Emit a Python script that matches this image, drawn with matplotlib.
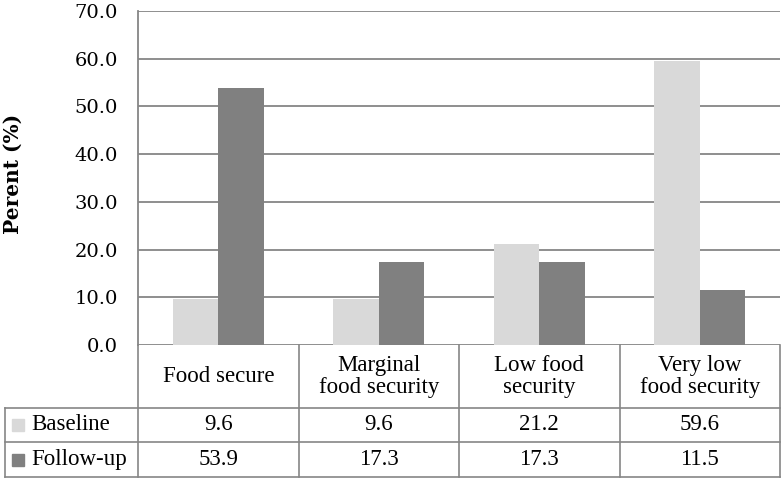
import matplotlib
matplotlib.use("Agg")
import matplotlib.pyplot as plt
from matplotlib.lines import Line2D
from matplotlib.patches import Rectangle

categories = ["Food secure", "Marginal\nfood security", "Low food\nsecurity", "Very low\nfood security"]
series_names = ["Baseline", "Follow-up"]
baseline = [9.6, 9.6, 21.2, 59.6]
followup = [53.9, 17.3, 17.3, 11.5]
yticks = [0, 10, 20, 30, 40, 50, 60, 70]
colors = ["#d9d9d9", "#808080"]
grid_c = "#868686"

W, H = 783, 479
fig = plt.figure(figsize=(W / 100, H / 100), dpi=100)

def fx(px):
    return px / W

def fy(py):
    return 1 - py / H

x0, x1, ytop, ybot = 138, 780, 11, 345
ax = fig.add_axes([fx(x0), fy(ybot), fx(x1) - fx(x0), fy(ytop) - fy(ybot)])
ax.set_xlim(-0.5, len(categories) - 0.5)
ax.set_ylim(0, 70)
ax.set_yticks(yticks)
ax.set_yticklabels([f"{v:.1f}" for v in yticks], fontsize=14, family="DejaVu Serif")
ax.tick_params(axis="y", length=0, pad=14.5)
ax.tick_params(axis="x", length=0, labelbottom=False)
for s in ["top", "right", "bottom"]:
    ax.spines[s].set_visible(False)
ax.spines["left"].set_color(grid_c)
ax.spines["left"].set_linewidth(1.3)
ax.yaxis.grid(True, color=grid_c, linewidth=1.3)
ax.set_axisbelow(True)

bw = 0.285
xs = list(range(len(categories)))
ax.bar([x - bw / 2 for x in xs], baseline, width=bw, color=colors[0], zorder=3)
ax.bar([x + bw / 2 for x in xs], followup, width=bw, color=colors[1], zorder=3)

ax.set_ylabel("Perent (%)", fontsize=14.5, fontweight="bold", family="DejaVu Serif")
ax.yaxis.set_label_coords((23 - x0) / (x1 - x0), (ybot - 173.5) / (ybot - ytop))

# data table drawn in figure pixel coordinates
r0, r1, r2, r3 = 345, 408, 442, 477
lx = 5
col_w = (x1 - x0) / len(categories)
lw = 1.2

def line(xa, ya, xb, yb):
    fig.add_artist(Line2D([fx(xa), fx(xb)], [fy(ya), fy(yb)], color=grid_c, linewidth=lw))

for i in range(len(categories) + 1):
    cx = x0 + i * col_w
    line(cx, ybot, cx, r3)
line(lx, r1, x1, r1)
line(lx, r2, x1, r2)
line(lx, r3, x1, r3)
line(lx, r1, lx, r3)

tfont = dict(family="Liberation Serif", fontsize=16.5)
for i, cat in enumerate(categories):
    cx = x0 + (i + 0.5) * col_w
    fig.text(fx(cx), fy((r0 + r1) / 2), cat, ha="center", va="center", linespacing=1.05, **tfont)
    fig.text(fx(cx), fy((r1 + r2) / 2), f"{baseline[i]:.1f}", ha="center", va="center", **tfont)
    fig.text(fx(cx), fy((r2 + r3) / 2), f"{followup[i]:.1f}", ha="center", va="center", **tfont)

for j, (name, c) in enumerate(zip(series_names, colors)):
    yc = (r1 + r2) / 2 if j == 0 else (r2 + r3) / 2
    fig.add_artist(Rectangle((fx(12), fy(yc + 6)), fx(12), fy(0) - fy(12), color=c))
    fig.text(fx(31), fy(yc), name, ha="left", va="center", **tfont)

fig.savefig("out.png", dpi=100)
